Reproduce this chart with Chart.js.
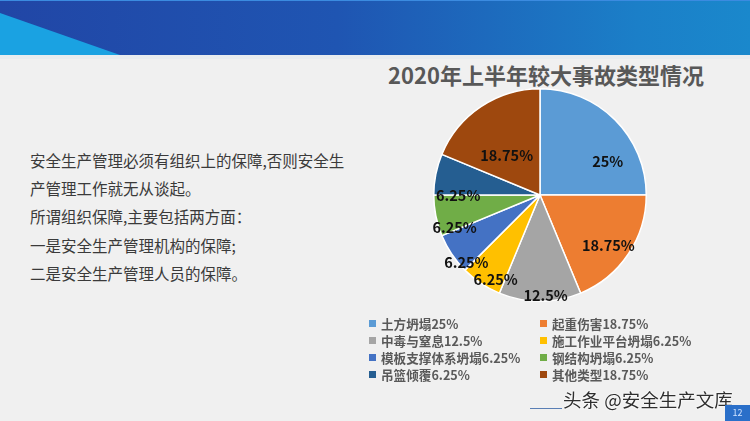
<!DOCTYPE html>
<html>
<head>
<meta charset="utf-8">
<script src="https://cdn.jsdelivr.net/npm/chart.js@4.4.1/dist/chart.umd.min.js"></script>
<style>
  html, body { margin: 0; padding: 0; }
  body { width: 750px; height: 421px; position: relative; overflow: hidden; background: #f0f0f0;
         font-family: "Noto Sans CJK SC", "Noto Sans", sans-serif; }
  #band { position: absolute; left: 0; top: 0; width: 750px; height: 55px;
          background: linear-gradient(90deg, #2146a6 0%, #1f55b2 45%, #1b7fc8 85%, #1a88cc 100%);
          border-top: 1px solid #3b8be0; box-sizing: border-box; }
  #tri { position: absolute; left: 0; top: 0; width: 750px; height: 55px; }
  #sep { position: absolute; left: 0; top: 55px; width: 750px; height: 4px; background: #e8ecef; }
  #title { position: absolute; left: 346px; width: 400px; top: 60px; text-align: center;
           font-size: 22px; font-weight: bold; color: #585858; line-height: 28px; }
  #text { position: absolute; left: 30px; top: 146px; font-size: 15.5px; color: #3a3a3a; line-height: 28.2px; }
  #chart { position: absolute; left: 0; top: 0; }
  #legend { position: absolute; left: 369px; top: 315px; display: grid;
            grid-template-columns: 171px 200px; font-size: 12.6px; font-weight: bold; color: #595959; }
  .li { height: 17px; line-height: 17px; display: flex; align-items: center; white-space: nowrap; }
  .sw { width: 7px; height: 7px; margin-right: 5px; flex: none; }
  #wm { position: absolute; left: 563px; top: 387px; font-size: 18.5px; color: #2e2e2e;
        text-shadow: 0 0 2px #fff, 0 0 2px #fff; white-space: nowrap; line-height: 24px; }
  #wmline { position: absolute; left: 530px; top: 408px; width: 32px; height: 1px; background: #5a7fb5; }
  #pg { position: absolute; left: 725px; top: 405px; width: 25px; height: 16px; background: #2a6fc9;
        color: #cfe2ff; font-size: 9px; line-height: 16px; text-align: center; }
</style>
</head>
<body>
<div id="band"></div>
<svg id="tri" width="750" height="55"><polygon points="0,13 120,55 0,55" fill="#1aa2e2"/></svg>
<div id="sep"></div>
<div id="title"></div>
<div id="text"></div>
<canvas id="chart" width="750" height="421"></canvas>
<div id="legend"></div>
<div id="wmline"></div>
<div id="wm">头条 @安全生产文库</div>
<div id="pg">12</div>
<script>
const chartTitle = '2020年上半年较大事故类型情况';
const categories = ['土方坍塌', '起重伤害', '中毒与窒息', '施工作业平台坍塌', '模板支撑体系坍塌', '钢结构坍塌', '吊篮倾覆', '其他类型'];
const values = [25, 18.75, 12.5, 6.25, 6.25, 6.25, 6.25, 18.75];
const sliceColors = ['#5B9BD5', '#ED7D31', '#A5A5A5', '#FFC000', '#4472C4', '#70AD47', '#255E91', '#9E480E'];
const textLines = [
  '安全生产管理必须有组织上的保障,否则安全生',
  '产管理工作就无从谈起。',
  '所谓组织保障,主要包括两方面：',
  '一是安全生产管理机构的保障;',
  '二是安全生产管理人员的保障。'
];
// label placement: [fraction along slice angle, fraction of radius]
const labelAngleFrac = [0.71, 0.54, 0.43, 0.23, 0.11, 0.07, 0.0, 0.41];
const labelRadiusFrac = [0.71, 0.80, 0.95, 0.90, 0.94, 0.86, 0.77, 0.49];

document.getElementById('title').textContent = chartTitle;
const tx = document.getElementById('text');
textLines.forEach(l => { const d = document.createElement('div'); d.textContent = l; tx.appendChild(d); });

const lg = document.getElementById('legend');
categories.forEach((c, i) => {
  const d = document.createElement('div'); d.className = 'li';
  const s = document.createElement('span'); s.className = 'sw'; s.style.background = sliceColors[i];
  const t = document.createElement('span'); t.textContent = c + values[i] + '%';
  d.appendChild(s); d.appendChild(t); lg.appendChild(d);
});

const labelPlugin = {
  id: 'sliceLabels',
  afterDatasetsDraw(chart) {
    const ctx = chart.ctx;
    const meta = chart.getDatasetMeta(0);
    ctx.save();
    ctx.font = 'bold 14.5px "Noto Sans CJK SC", "Noto Sans", sans-serif';
    ctx.fillStyle = '#111';
    ctx.textAlign = 'center';
    ctx.textBaseline = 'middle';
    meta.data.forEach((arc, i) => {
      const p = arc.getProps(['x', 'y', 'startAngle', 'endAngle', 'outerRadius'], true);
      const a = p.startAngle + (p.endAngle - p.startAngle) * labelAngleFrac[i];
      const r = p.outerRadius * labelRadiusFrac[i];
      ctx.fillText(values[i] + '%', p.x + Math.cos(a) * r, p.y + Math.sin(a) * r);
    });
    ctx.restore();
  }
};

new Chart(document.getElementById('chart'), {
  type: 'pie',
  data: {
    labels: categories,
    datasets: [{ data: values, backgroundColor: sliceColors, borderColor: '#ffffff', borderWidth: 1.5 }]
  },
  options: {
    responsive: false,
    animation: false,
    layout: { padding: { left: 433, right: 103, top: 88, bottom: 119 } },
    plugins: { legend: { display: false }, tooltip: { enabled: false }, title: { display: false } }
  },
  plugins: [labelPlugin]
});
</script>
</body>
</html>
